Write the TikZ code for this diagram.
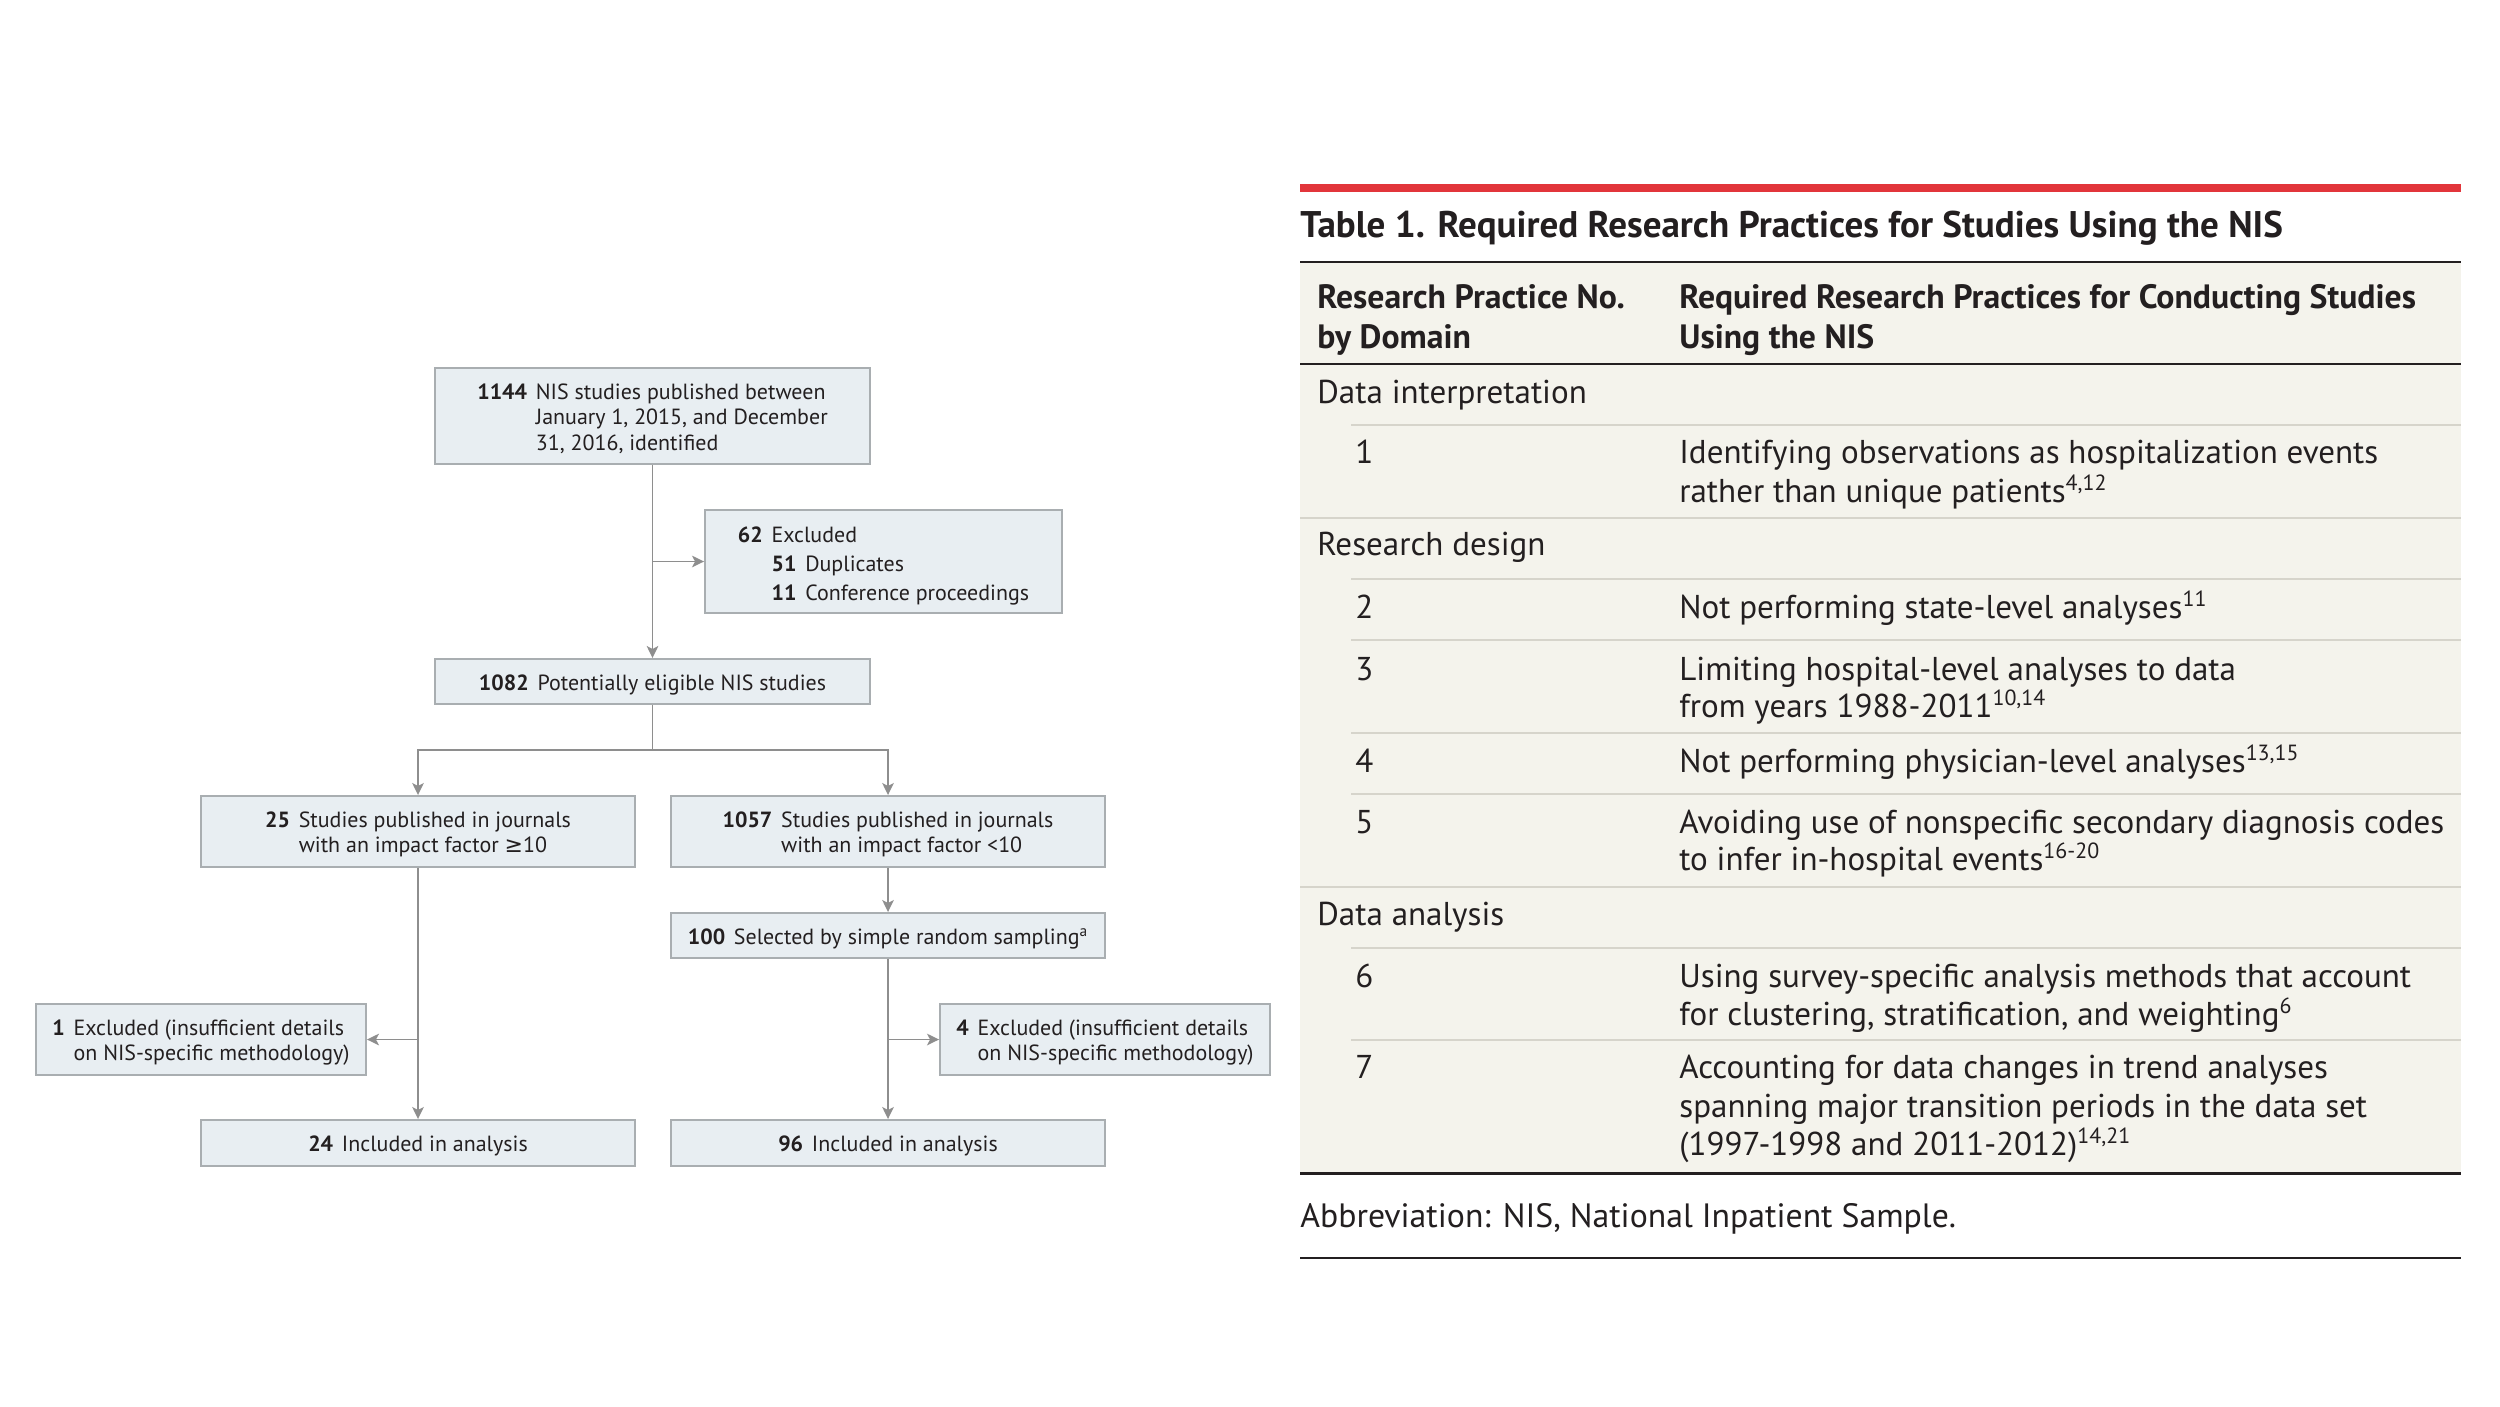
\documentclass[tikz,border=0pt]{standalone}
\usepackage{fontspec}
\setmainfont{PT Sans}
\newfontfamily\symfont{DejaVu Sans}
\usepackage{tikz}
\usetikzlibrary{arrows.meta, positioning, calc}
\definecolor{boxfill}{HTML}{E8EEF2}
\definecolor{boxline}{HTML}{A9AEB1}
\definecolor{flowgray}{HTML}{8E8E8E}
\definecolor{tabbg}{HTML}{F4F3EC}
\definecolor{tabrule}{HTML}{D6D4CB}
\definecolor{jamared}{HTML}{E2353B}
\definecolor{ink}{HTML}{231F20}
\newcommand{\flowfont}{\fontsize{12.5}{14.3}\selectfont}
\newcommand{\cellfont}{\fontsize{18.8}{22}\selectfont}
\newcommand{\headfont}{\fontsize{19.2}{22}\selectfont\bfseries}
\newcommand{\titlefont}{\fontsize{21.1}{25}\selectfont\bfseries}
\newcommand{\refs}[1]{\raisebox{6.5pt}{\fontsize{12.5}{14}\selectfont #1}}
\newcommand{\hang}[2]{\raisebox{-2.2pt}[\height][\depth]{\begin{tabular}{@{}r@{\hspace{0.4em}}l@{}}\textbf{#1} & #2\end{tabular}}}
\tikzset{
  flowbox/.style={rectangle, draw=boxline, fill=boxfill, line width=1.1pt,
                  inner sep=0pt, font=\flowfont, text=ink, align=center},
  flowline/.style={line width=1.1pt, flowgray},
  flowarr/.style={-{Stealth[length=2.4mm, width=2.3mm, inset=0.6mm]}, line width=1.1pt, flowgray},
  cell/.style={anchor=base west, inner sep=0pt, font=\cellfont, text=ink},
  headcell/.style={cell, font=\headfont},
  thinrule/.style={line width=1.1pt, tabrule},
  heavyrule/.style={line width=1.7pt, ink},
}

\begin{document}
\begin{tikzpicture}[x=0.02cm, y=-0.02cm]
  \useasboundingbox[fill=white] (0,0) rectangle (2500,1406);

  % flow chart
  \node[flowbox, minimum width=8.7cm, minimum height=1.92cm] (found) at (652.5,416)
    {\hang{1144}{NIS studies published between\\ & January 1, 2015, and December\\ & 31, 2016, identified}};
  \node[flowbox, minimum width=7.14cm, minimum height=2.06cm] (dup) at (883.5,561.5)
    {\renewcommand{\arraystretch}{1.16}%
     \hang{62}{Excluded\\ & \textbf{51}\hspace{0.4em}Duplicates\\ & \textbf{11}\hspace{0.4em}Conference proceedings}};
  \node[flowbox, minimum width=8.7cm, minimum height=0.9cm] (elig) at (652.5,681.5)
    {\hang{1082}{Potentially eligible NIS studies}};
  \node[flowbox, minimum width=8.68cm, minimum height=1.42cm] (high) at (418,831.5)
    {\hang{25}{Studies published in journals\\ & with an impact factor {\symfont ≥}10}};
  \node[flowbox, minimum width=8.68cm, minimum height=1.42cm] (low) at (888,831.5)
    {\hang{1057}{Studies published in journals\\ & with an impact factor <10}};
  \node[flowbox, minimum width=8.68cm, minimum height=0.9cm] (rand) at (888,935.5)
    {\hang{100}{Selected by simple random sampling\textsuperscript{a}}};
  \node[flowbox, minimum width=6.6cm, minimum height=1.42cm] (exhigh) at (201,1039.5)
    {\hang{1}{Excluded (insufficient details\\ & on NIS-specific methodology)}};
  \node[flowbox, minimum width=6.6cm, minimum height=1.42cm] (exlow) at (1105,1039.5)
    {\hang{4}{Excluded (insufficient details\\ & on NIS-specific methodology)}};
  \node[flowbox, minimum width=8.68cm, minimum height=0.92cm] (inhigh) at (418,1143)
    {\hang{24}{Included in analysis}};
  \node[flowbox, minimum width=8.68cm, minimum height=0.92cm] (inlow) at (888,1143)
    {\hang{96}{Included in analysis}};

  \coordinate (jdup) at (found.south |- dup.west);
  \coordinate (fork) at (652.5,750);
  \coordinate (jhigh) at (high.south |- exhigh.east);
  \coordinate (jlow) at (rand.south |- exlow.west);
  \draw[flowarr] (found.south) -- (elig.north);
  \draw[flowarr] (jdup) -- (dup.west);
  \draw[flowline] (elig.south) -- (fork);
  \draw[flowarr] (fork) -| (high.north);
  \draw[flowarr] (fork) -| (low.north);
  \draw[flowarr] (low.south) -- (rand.north);
  \draw[flowarr] (high.south) -- (inhigh.north);
  \draw[flowarr] (jhigh) -- (exhigh.east);
  \draw[flowarr] (rand.south) -- (inlow.north);
  \draw[flowarr] (jlow) -- (exlow.west);

  % table
  \fill[tabbg] (1300,262) rectangle (2461,1173);
  \draw[line width=5.1pt, jamared] (1300,188) -- (2461,188);
  \node[cell, font=\titlefont] (title) at (1300,237)
    {Table 1. Required Research Practices for Studies Using the NIS};
  \draw[heavyrule] (1300,262) -- (2461,262);
  \node[headcell] (hdnoa) at (1317,308) {Research Practice No.};
  \node[headcell] (hdnob) at (1317,348) {by Domain};
  \node[headcell] (hdpra) at (1679,308) {Required Research Practices for Conducting Studies};
  \node[headcell] (hdprb) at (1679,348) {Using the NIS};
  \draw[heavyrule] (1300,364) -- (2461,364);

  \node[cell] (dinterp) at (1317,403) {Data interpretation};
  \draw[thinrule] (1351,425) -- (2461,425);
  \node[cell] (n1) at (1355,463) {1};
  \node[cell] (p1a) at (1679,463) {Identifying observations as hospitalization events};
  \node[cell] (p1b) at (1679,502) {rather than unique patients\refs{4,12}};
  \draw[thinrule] (1300,518) -- (2461,518);

  \node[cell] (design) at (1317,555) {Research design};
  \draw[thinrule] (1351,579) -- (2461,579);
  \node[cell] (n2) at (1355,618) {2};
  \node[cell] (p2a) at (1679,618) {Not performing state-level analyses\refs{11}};
  \draw[thinrule] (1351,640) -- (2461,640);
  \node[cell] (n3) at (1355,680) {3};
  \node[cell] (p3a) at (1679,680) {Limiting hospital-level analyses to data};
  \node[cell] (p3b) at (1679,717) {from years 1988-2011\refs{10,14}};
  \draw[thinrule] (1351,733) -- (2461,733);
  \node[cell] (n4) at (1355,772) {4};
  \node[cell] (p4a) at (1679,772) {Not performing physician-level analyses\refs{13,15}};
  \draw[thinrule] (1351,794) -- (2461,794);
  \node[cell] (n5) at (1355,833) {5};
  \node[cell] (p5a) at (1679,833) {Avoiding use of nonspecific secondary diagnosis codes};
  \node[cell] (p5b) at (1679,870) {to infer in-hospital events\refs{16-20}};
  \draw[thinrule] (1300,887) -- (2461,887);

  \node[cell] (analysis) at (1317,925) {Data analysis};
  \draw[thinrule] (1351,948) -- (2461,948);
  \node[cell] (n6) at (1355,987) {6};
  \node[cell] (p6a) at (1679,987) {Using survey-specific analysis methods that account};
  \node[cell] (p6b) at (1679,1025) {for clustering, stratification, and weighting\refs{6}};
  \draw[thinrule] (1351,1040) -- (2461,1040);
  \node[cell] (n7) at (1355,1078) {7};
  \node[cell] (p7a) at (1679,1078) {Accounting for data changes in trend analyses};
  \node[cell] (p7b) at (1679,1117) {spanning major transition periods in the data set};
  \node[cell] (p7c) at (1679,1155) {(1997-1998 and 2011-2012)\refs{14,21}};
  \draw[heavyrule] (1300,1173) -- (2461,1173);

  \node[cell, font=\fontsize{19.2}{22}\selectfont] (abbrev) at (1300,1227)
    {Abbreviation: NIS, National Inpatient Sample.};
  \draw[line width=1.3pt, ink] (1300,1258) -- (2461,1258);
\end{tikzpicture}
\end{document}
